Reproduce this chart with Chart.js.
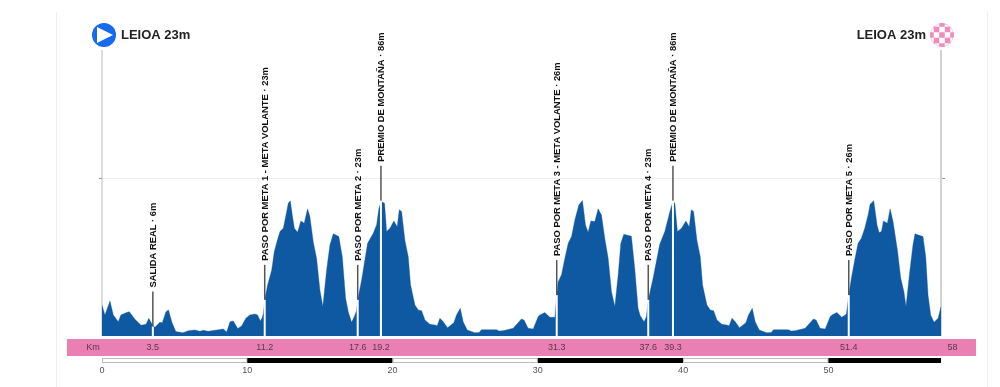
<!DOCTYPE html>
<html>
<head>
<meta charset="utf-8">
<style>
  html, body { margin: 0; padding: 0; background: #fff; }
  canvas { display: block; }
</style>
<script src="https://cdn.jsdelivr.net/npm/chart.js@4/dist/chart.umd.min.js"></script>
</head>
<body>
<canvas id="profile" width="1000" height="387"></canvas>
<script>
const profileKm = [
  0, 0.2, 0.55, 0.78, 1.12, 1.3, 1.69, 1.88, 2.27, 2.69, 3.03, 3.22, 3.48, 3.64, 3.98, 4.15, 4.4, 4.58, 4.8, 5.08,
  5.57, 5.94, 6.4, 6.74, 6.97, 7.31, 7.89, 8.35, 8.58, 8.81, 9.04, 9.34, 9.61, 9.9, 10.18, 10.53, 10.71, 10.9, 11.03, 11.1,
  11.24, 11.4, 11.68, 11.86, 12.02, 12.25, 12.48, 12.71, 12.82, 12.96, 13.1, 13.24, 13.46, 13.69, 13.92, 14.15, 14.31, 14.54, 14.77, 15,
  15.2, 15.46, 15.69, 15.92, 16.3, 16.54, 16.77, 16.95, 17.18, 17.36, 17.52, 17.6, 17.87, 18.28, 18.67, 18.9, 19.06, 19.22, 19.45, 19.59,
  19.82, 20.09, 20.32, 20.46, 20.62, 20.85, 21.08, 21.24, 21.54, 21.77, 22, 22.23, 22.57, 22.91, 23.07, 23.26, 23.49, 23.78, 24.22, 24.4,
  24.66, 24.86, 25.14, 25.66, 25.96, 26.12, 27.15, 27.34, 27.6, 28.3, 28.87, 29.05, 29.33, 29.68, 30.02, 30.14, 30.48, 30.83, 31.17, 31.3,
  31.4, 31.63, 31.86, 32.09, 32.32, 32.55, 32.82, 33.07, 33.28, 33.46, 33.65, 33.92, 34.15, 34.38, 34.61, 34.84, 35.07, 35.3, 35.53, 35.71,
  35.92, 36.44, 36.67, 36.9, 37.04, 37.31, 37.47, 37.6, 37.93, 38.39, 38.74, 39.09, 39.3, 39.43, 39.61, 39.89, 40.19, 40.42, 40.56, 40.72,
  40.95, 41.18, 41.34, 41.64, 41.87, 42.1, 42.33, 42.67, 43.01, 43.17, 43.36, 43.59, 43.88, 44.32, 44.5, 44.76, 44.96, 45.24, 45.76, 46.06,
  46.22, 47.25, 47.44, 47.7, 48.4, 48.97, 49.15, 49.43, 49.78, 50.12, 50.24, 50.58, 50.93, 51.24, 51.4, 51.58, 51.81, 52.04, 52.27, 52.5,
  52.73, 52.87, 53.12, 53.35, 53.49, 53.65, 53.79, 54.06, 54.25, 54.45, 54.75, 54.98, 55.2, 55.34, 55.6, 55.82, 55.96, 56.51, 56.7, 56.86,
  57.04, 57.27, 57.55, 57.75
];
const profileElev = [
  19.7, 13.4, 22.3, 13.4, 9.1, 13.4, 14.9, 15.5, 10.6, 6.8, 7.4, 11.3, 7, 5.5, 8.7, 8.5, 15.5, 16.6, 9, 2.8,
  2.1, 3.4, 3.8, 3, 3.6, 3, 3.8, 4.5, 2.5, 9.1, 9.6, 4.7, 6.4, 11.3, 13.4, 14, 13.4, 9.6, 11.7, 14.4,
  25, 32.5, 42, 53.7, 59.4, 66.5, 68.6, 79, 84.5, 86, 77, 68.6, 66, 73.2, 71.8, 80.9, 76, 60, 49.5, 29.3,
  18.7, 42, 58, 65, 63.3, 50.5, 24, 15.5, 8.7, 12.3, 16, 23, 35.7, 59, 65.4, 70.7, 81.3, 85.6, 84.5, 66.5,
  68.6, 73.2, 69.6, 80.3, 79.2, 61, 50.5, 32.5, 19.7, 16.6, 16, 10.2, 7.4, 7, 6.6, 11.3, 9.1, 5.3, 8.5, 13.4,
  17.6, 9.1, 3.8, 2.1, 2.3, 4, 4, 3.2, 3.4, 4.9, 10.8, 10.2, 4.9, 4.5, 12.3, 13.4, 14.9, 11.9, 11.9, 26,
  34.6, 38.9, 49.5, 59, 63.3, 73.9, 83.4, 86.2, 70.7, 66, 73.2, 72.8, 80.9, 77, 62, 49.5, 28.2, 18.7, 38.9, 59,
  64.8, 63.5, 43, 17.6, 13, 9.1, 12.3, 23, 36.7, 58.4, 66.5, 79.2, 85.6, 84.5, 66.5, 68.6, 73.2, 69.6, 80.3, 79.2,
  61, 50.5, 32.5, 19.7, 16.6, 16, 10.2, 7.4, 7, 6.6, 11.3, 9.1, 5.3, 8.5, 13.4, 17.6, 9.1, 3.8, 2.1, 2.3,
  4, 4, 3.2, 3.4, 4.9, 10.8, 10.2, 4.9, 4.5, 12.3, 13.4, 14.9, 11.9, 14, 26, 36.7, 48.4, 59, 62.2, 68.6,
  77, 83.9, 86, 70.7, 65.8, 66.5, 73.2, 71.8, 80.9, 72.8, 54.8, 36.7, 28.2, 18.7, 41, 58, 65, 63.3, 50.5, 26,
  13.4, 8.7, 11.3, 18.7
];

const markerKm = [3.5, 11.2, 17.6, 19.2, 31.3, 37.6, 39.3, 51.4];
const markerElev = [6, 23, 23, 86, 26, 23, 86, 26];
const markerNames = [
  'SALIDA REAL · 6m',
  'PASO POR META 1 - META VOLANTE · 23m',
  'PASO POR META 2 · 23m',
  'PREMIO DE MONTAÑA · 86m',
  'PASO POR META 3 - META VOLANTE · 26m',
  'PASO POR META 4 · 23m',
  'PREMIO DE MONTAÑA · 86m',
  'PASO POR META 5 · 26m',
];

const xTicks = [0, 10, 20, 30, 40, 50];
const yTicks = [100];
const startLabel = 'LEIOA 23m';
const finishLabel = 'LEIOA 23m';
const bandTitle = 'Km';
const totalLabel = '58';

const KM_MAX = 57.75;
const ELEV_MAX = 182;
const STEM_M = 22.3;
const FONT = "'Liberation Sans', Arial, sans-serif";
const PINK = '#ea7fb3';

function xy(xs, ys) {
  return xs.map((x, i) => ({ x, y: ys[i] }));
}

const stemDatasets = [];
markerKm.forEach((km, i) => {
  // white cut through the area, dark stem above it
  stemDatasets.push({
    data: xy([km, km], [0, markerElev[i]]),
    borderColor: '#ffffff', borderWidth: 2, pointRadius: 0, fill: false, clip: false, order: 1,
  });
  stemDatasets.push({
    data: xy([km, km], [markerElev[i], markerElev[i] + STEM_M]),
    borderColor: '#555555', borderWidth: 1.5, pointRadius: 0, fill: false, clip: false, order: 1,
  });
});

// ── Decorations: km band, scale bar, icons, labels ────────────
const decorations = {
  id: 'decorations',
  beforeDatasetsDraw(chart) {
    const { ctx, scales: { x, y } } = chart;
    const base = y.getPixelForValue(0);
    ctx.save();
    // page frame
    ctx.fillStyle = '#efefef';
    ctx.fillRect(56, 12, 1, 375);
    ctx.fillRect(987, 12, 1, 375);
    // km band
    ctx.fillStyle = PINK;
    ctx.fillRect(67, base + 3, 909, 17);
    // scale bar
    const ends = [...xTicks, KM_MAX];
    for (let i = 0; i < ends.length - 1; i++) {
      const a = x.getPixelForValue(ends[i]);
      const b = x.getPixelForValue(ends[i + 1]);
      if (i % 2) {
        ctx.fillStyle = '#000000';
        ctx.fillRect(a, base + 22, b - a, 5);
      } else {
        ctx.fillStyle = '#bbbbbb';
        ctx.fillRect(a, base + 22, b - a, 5);
        ctx.fillStyle = '#ffffff';
        ctx.fillRect(a + 1, base + 23, b - a - 2, 3);
      }
    }
    ctx.restore();
  },
  afterDatasetsDraw(chart) {
    const { ctx, scales: { x, y } } = chart;
    const base = y.getPixelForValue(0);
    const left = x.getPixelForValue(0);
    const right = x.getPixelForValue(KM_MAX);
    ctx.save();

    // small ticks at both ends of the grid line
    ctx.fillStyle = '#999999';
    yTicks.forEach(v => {
      const py = Math.round(y.getPixelForValue(v));
      ctx.fillRect(left - 3, py - 1, 3, 1);
      ctx.fillRect(right + 1, py - 1, 3, 1);
    });

    // km band labels
    ctx.font = '9px ' + FONT;
    ctx.fillStyle = '#5a3a4a';
    ctx.textAlign = 'center';
    ctx.textBaseline = 'middle';
    ctx.fillText(bandTitle, 93, base + 12);
    markerKm.forEach(km => ctx.fillText(String(km), x.getPixelForValue(km), base + 12));
    ctx.fillText(totalLabel, right + 11.5, base + 12);

    // rotated marker labels
    ctx.font = 'bold 9.4px ' + FONT;
    ctx.fillStyle = '#111111';
    ctx.textAlign = 'left';
    markerKm.forEach((km, i) => {
      ctx.save();
      ctx.translate(x.getPixelForValue(km) + 0.5, y.getPixelForValue(markerElev[i] + STEM_M) - 4);
      ctx.rotate(-Math.PI / 2);
      ctx.fillText(markerNames[i], 0, 0);
      ctx.restore();
    });

    // start icon
    ctx.fillStyle = '#1769ee';
    ctx.beginPath();
    ctx.arc(left + 2, 35, 12, 0, Math.PI * 2);
    ctx.fill();
    ctx.fillStyle = '#ffffff';
    ctx.beginPath();
    ctx.moveTo(left - 5, 27);
    ctx.lineTo(left + 11, 35);
    ctx.lineTo(left - 5, 43);
    ctx.closePath();
    ctx.fill();

    // finish icon
    ctx.save();
    ctx.beginPath();
    ctx.arc(right + 1, 35, 12, 0, Math.PI * 2);
    ctx.clip();
    ctx.fillStyle = '#ffffff';
    ctx.fillRect(right - 11, 23, 24, 24);
    ctx.fillStyle = '#ee8cbc';
    for (let r = 0; r < 5; r++) {
      for (let c = 0; c < 5; c++) {
        if ((r + c) % 2 === 0) ctx.fillRect(right - 12.75 + c * 5.5, 21.25 + r * 5.5, 5.5, 5.5);
      }
    }
    ctx.restore();
    ctx.strokeStyle = 'rgba(238,140,188,0.45)';
    ctx.lineWidth = 1;
    ctx.beginPath();
    ctx.arc(right + 1, 35, 11.5, 0, Math.PI * 2);
    ctx.stroke();

    // start and finish names
    ctx.font = 'bold 13px ' + FONT;
    ctx.fillStyle = '#222222';
    ctx.textAlign = 'left';
    ctx.fillText(startLabel, left + 19, 35);
    ctx.textAlign = 'right';
    ctx.fillText(finishLabel, right - 15, 35);
    ctx.restore();
  },
};

new Chart(document.getElementById('profile').getContext('2d'), {
  type: 'line',
  data: {
    datasets: [
      {
        data: xy(profileKm, profileElev),
        borderColor: 'rgba(14,89,162,0.35)',
        borderWidth: 1,
        backgroundColor: '#0e59a2',
        fill: 'origin',
        tension: 0,
        pointRadius: 0,
        order: 2,
      },
      {
        data: xy([0, 0], [0, ELEV_MAX]),
        borderColor: '#bbbbbb', borderWidth: 1, pointRadius: 0, fill: false, clip: false, order: 3,
      },
      {
        data: xy([KM_MAX, KM_MAX], [0, ELEV_MAX]),
        borderColor: '#d2d2d2', borderWidth: 2, pointRadius: 0, fill: false, clip: false, order: 3,
      },
      ...stemDatasets,
    ],
  },
  options: {
    responsive: false,
    animation: false,
    layout: { padding: { left: 102, right: 59, top: 50, bottom: 0 } },
    plugins: { legend: { display: false }, tooltip: { enabled: false } },
    scales: {
      x: {
        type: 'linear',
        min: 0,
        max: KM_MAX,
        afterBuildTicks: s => { s.ticks = xTicks.map(value => ({ value })); },
        afterFit: s => { s.height = 51; },
        grid: { display: false },
        border: { display: false },
        ticks: {
          color: '#555555',
          padding: 21,
          maxRotation: 0,
          autoSkip: false,
          font: { size: 9, family: FONT },
        },
      },
      y: {
        min: 0,
        max: ELEV_MAX,
        afterBuildTicks: s => { s.ticks = yTicks.map(value => ({ value })); },
        afterFit: s => { s.width = 0; },
        grid: { color: '#eeeeee', lineWidth: 1, drawTicks: false },
        border: { display: false },
        ticks: { display: false },
      },
    },
  },
  plugins: [decorations],
});
</script>
</body>
</html>
